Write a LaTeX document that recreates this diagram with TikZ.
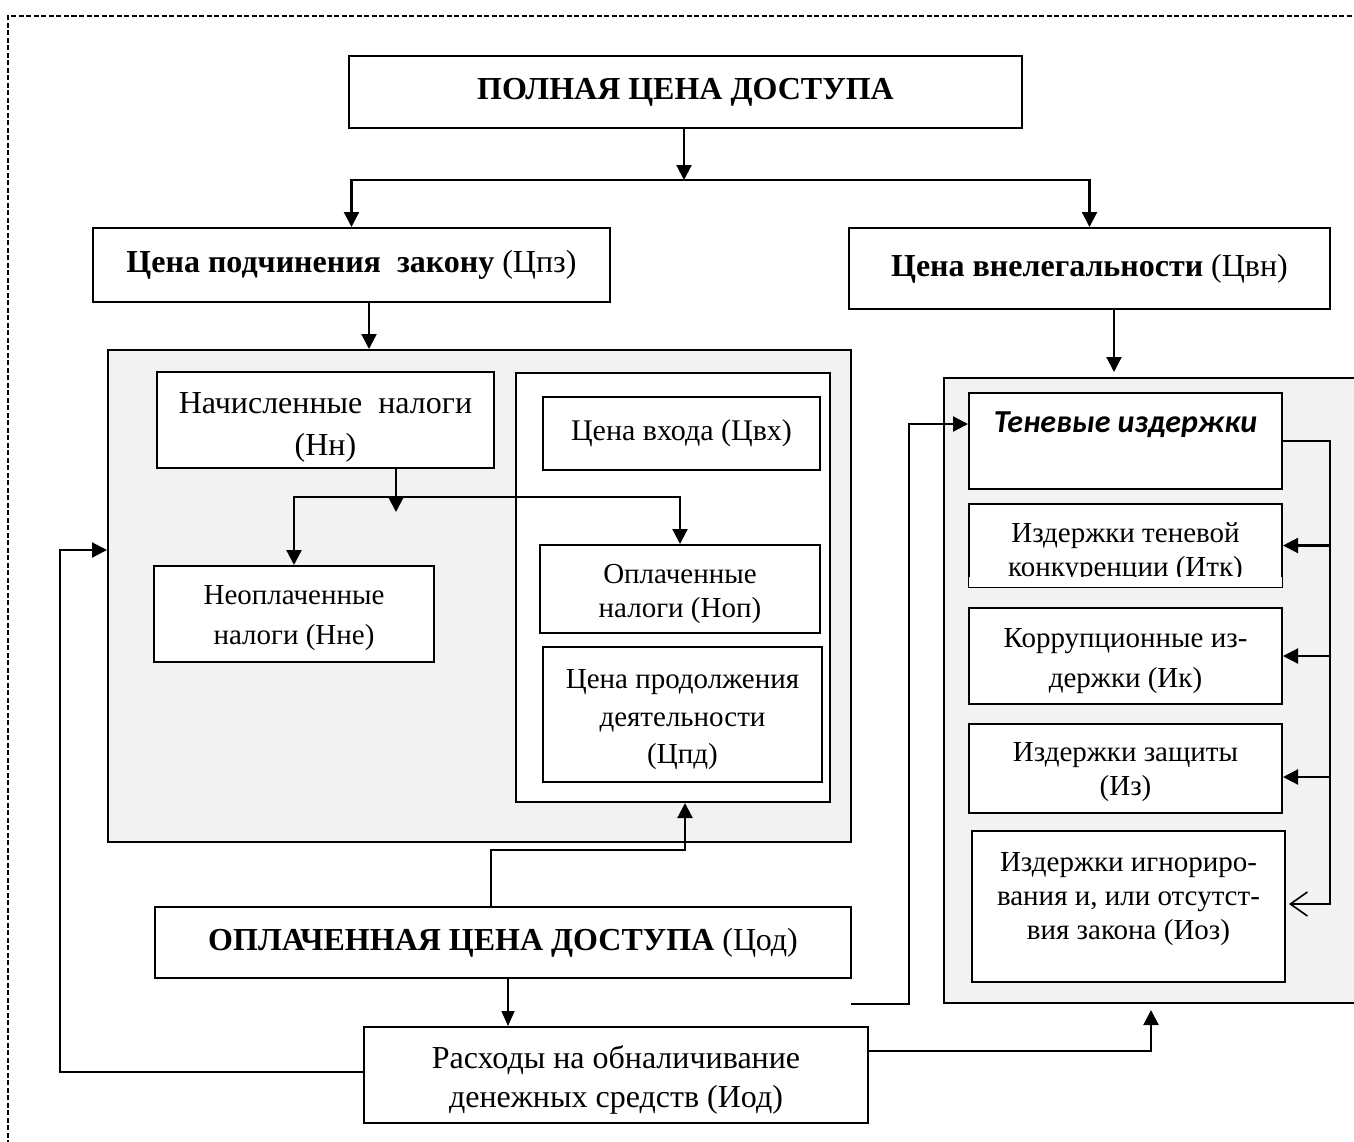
\documentclass[tikz,border=0pt]{standalone}
\usepackage{fontspec}
\setmainfont{Liberation Serif}
\newfontfamily\carlito{Carlito}
\usetikzlibrary{arrows.meta}
\definecolor{panel}{HTML}{F2F2F2}
\newcommand\Bx[7][]{\node[box,#1,minimum width={(#5)-(#3)},minimum height={(#6)-(#4)}] (#2) at ({((#3)+(#5))/2},{((#4)+(#6))/2}) {#7};}
\newcommand\Up[1]{\rule{0pt}{#1}}
\begin{document}
\begin{tikzpicture}[x=1pt,y=-1pt,
  box/.style={draw, line width=2pt, fill=white, inner sep=0pt, align=center, font=\fontsize{29}{40}\selectfont},
  panelbox/.style={fill=panel},
  bodyR/.style={font=\fontsize{29}{34}\selectfont},
  head/.style={font=\fontsize{32}{38}\selectfont},
  arr/.style={line width=2.2pt, -{Triangle[length=15pt,width=15pt]}},
  thinarr/.style={line width=1.6pt, -{Triangle[length=15pt,width=13pt]}},
  openarr/.style={line width=2.2pt, -{Straight Barb[length=17pt,width=24pt,line width=1.6pt]}},
  frame/.style={line width=1.2pt, dash pattern=on 5pt off 2.5pt}
]
\useasboundingbox (0,0) rectangle (1354,1141);
\clip (0,0) rectangle (1354,1141);
\fill[white] (0,0) rectangle (1354,1141);
% frame
\coordinate (fa) at (8,1160);
\coordinate (fb) at (8,16);
\coordinate (fc) at (1370,16);
\draw[frame] (fa) -- (fb) -- (fc);
% panels
\Bx[panelbox]{lg}{108}{350}{851}{842}{}
\Bx[panelbox]{rg}{944}{378}{1390}{1003}{}
\Bx{iw}{516}{373}{830}{802}{}
% boxes
\Bx[head]{top}{349}{56}{1022}{128}{\bfseries ПОЛНАЯ ЦЕНА ДОСТУПА}
\Bx[head]{cpz}{93}{228}{610}{302}{{\bfseries Цена подчинения\ \ закону} (Цпз)}
\Bx[head]{cvn}{849}{228}{1330}{309}{{\bfseries Цена внелегальности} (Цвн)}
\Bx[font=\fontsize{32}{42}\selectfont]{nn}{157}{372}{494}{468}{\Up{36pt}Начисленные\ \ налоги\\(Нн)}
\Bx[font=\fontsize{30}{36}\selectfont]{cvx}{543}{397}{820}{470}{Цена входа (Цвх)}
\Bx{nne}{154}{566}{434}{662}{\Up{28pt}Неоплаченные\\налоги (Нне)}
\Bx[bodyR]{nop}{540}{545}{820}{633}{\Up{30pt}Оплаченные\\налоги (Ноп)}
\Bx[font=\fontsize{29}{37.5}\selectfont]{cpd}{543}{647}{822}{782}{\Up{30pt}Цена продолжения\\деятельности\\(Цпд)}
\Bx[font=\fontsize{32}{36}\selectfont]{ten}{969}{393}{1282}{489}{{\carlito\bfseries\itshape Теневые издержки}\\[2pt]\mbox{}}
\Bx[bodyR]{itk}{969}{504}{1282}{587}{\Up{34pt}Издержки теневой\\конкуренции (Итк)}
\fill[white] ([xshift=1.1pt,yshift=1.1pt]itk.south west) rectangle ([xshift=-1.1pt,yshift=11pt]itk.south east);
\Bx[font=\fontsize{29}{40}\selectfont]{ik}{969}{608}{1282}{704}{\Up{29pt}Коррупционные из-\\держки (Ик)}
\Bx[bodyR]{iz}{969}{724}{1282}{813}{\Up{27pt}Издержки защиты\\(Из)}
\Bx[bodyR]{ioz}{972}{831}{1285}{982}{Издержки игнориро-\\вания и, или отсутст-\\вия закона (Иоз)\\[-12pt]\mbox{}}
\Bx[head]{cod}{155}{907}{851}{978}{{\bfseries ОПЛАЧЕННАЯ ЦЕНА ДОСТУПА} (Цод)}
\Bx[font=\fontsize{32}{39}\selectfont]{ras}{364}{1027}{868}{1123}{\Up{32pt}Расходы на обналичивание\\денежных средств (Иод)}
% connectors
\coordinate (j1) at (684,180);
\draw[arr] (top.south -| j1) -- (j1);
\draw[arr] (j1) -| (cpz.north);
\draw[arr] (j1) -| (cvn.north);
\draw[arr] ([xshift=17.5pt]cpz.south) -- ([xshift=17.5pt]cpz.south |- lg.north);
\draw[arr, shorten >=5pt] ([xshift=24.5pt]cvn.south) -- ([xshift=24.5pt]cvn.south |- rg.north);
\coordinate (j2) at (396,497);
\draw[arr] (nn.south -| j2) -- ([yshift=-15pt]j2);
\draw[arr] (j2) -| (nne.north);
\draw[arr] (j2) -| (nop.north);
\coordinate (k1) at (685,850);
\draw[arr] ([xshift=-12pt]cod.north) |- (k1) -- (k1 |- iw.south);
\draw[thinarr] ([xshift=5pt]cod.south) -- ([xshift=5pt]cod.south |- ras.north);
\coordinate (k2) at (60,550);
\draw[arr] ([yshift=3pt]ras.west) -| (k2) -- (k2 -| lg.west);
\coordinate (k3) at (1151,1003);
\draw[arr, shorten >=7pt] ([yshift=24pt]ras.east) -| (k3);
\coordinate (k4) at (851,1004);
\coordinate (k5) at (909,424);
\draw[arr] (k4) -| (k5) -- (k5 -| ten.west);
\coordinate (bus) at (1330,441);
\coordinate (iozin) at ([yshift=2.5pt,xshift=3pt]ioz.east);
\draw[openarr] (ten.east) -- (ten.east -| bus) -- (bus |- iozin) -- (iozin);
\draw[arr] (bus |- itk.east) -- (itk.east);
\draw[arr] (bus |- ik.east) -- (ik.east);
\coordinate (izin) at ([yshift=-8.5pt]iz.east);
\draw[arr] (bus |- izin) -- (izin);
\end{tikzpicture}
\end{document}
